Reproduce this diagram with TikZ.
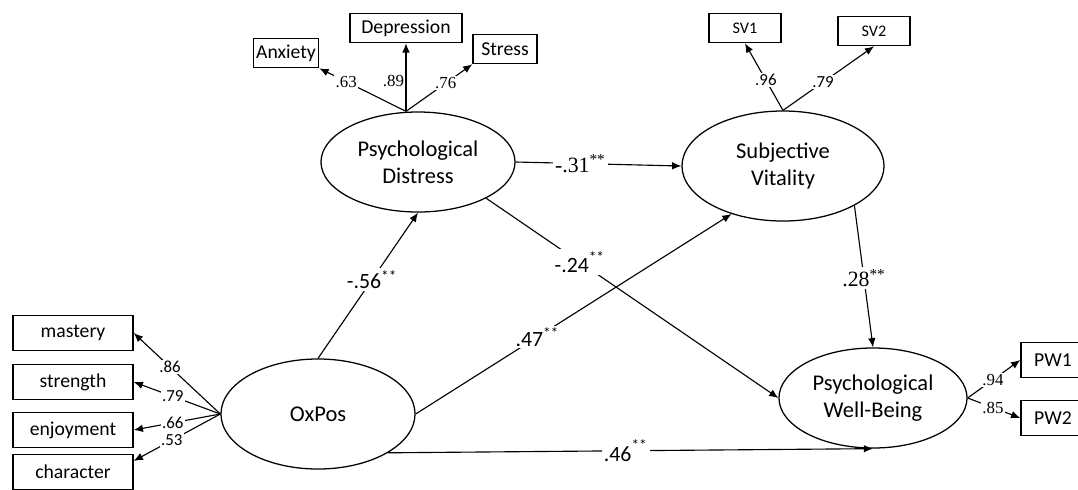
\documentclass[tikz,border=0pt]{standalone}
\usepackage{fontspec}
\setmainfont{Liberation Serif}
\setsansfont{Carlito}
\usetikzlibrary{arrows.meta,shapes.geometric}
\tikzset{
  latent/.style={ellipse,draw,line width=0.9pt,inner sep=0pt,align=center,
    font=\sffamily\fontsize{16}{19.2}\selectfont},
  indicator/.style={rectangle,draw,line width=1pt,inner sep=0pt,
    minimum height=0.73cm,font=\sffamily\fontsize{14}{16}\selectfont},
  wide/.style={indicator,minimum width=3cm,minimum height=0.88cm},
  effect/.style={-{Latex[length=2.3mm,width=1.9mm]},line width=0.8pt},
  load/.style={fill=white,inner sep=1pt,font=\sffamily\fontsize{12}{14}\selectfont},
  loadserif/.style={fill=white,inner sep=1pt,font=\rmfamily\fontsize{12}{14}\selectfont},
  coef/.style={fill=white,inner sep=1.5pt,font=\sffamily\fontsize{15.5}{18}\selectfont},
  coefserif/.style={fill=white,inner sep=1.5pt,font=\rmfamily\fontsize{15.5}{18}\selectfont}
}

\begin{document}
\begin{tikzpicture}[x=0.025cm,y=-0.025cm]
  \useasboundingbox (0,0) rectangle (1078,489);
  \clip (0,0) rectangle (1078,489);
  % latent variables
  \node[latent,minimum width=4.85cm,minimum height=2.5cm] (dist) at (418,162) {Psychological\\Distress};
  \node[latent,minimum width=5.05cm,minimum height=2.75cm] (vit) at (783,166) {Subjective\\Vitality};
  \node[latent,minimum width=4.85cm,minimum height=2.75cm] (oxpos) at (318,414) {OxPos};
  \node[latent,minimum width=4.7cm,minimum height=2.5cm] (pwb) at (873,398) {Psychological\\Well-Being};
  % indicators
  \node[indicator,minimum width=1.63cm] (anx) at (286,53) {Anxiety};
  \node[indicator,minimum width=2.8cm] (dep) at (406,28) {Depression};
  \node[indicator,minimum width=1.6cm] (strs) at (505,49) {Stress};
  \node[indicator,minimum width=1.8cm,font=\sffamily\fontsize{11.5}{13}\selectfont] (sv1) at (745,28) {SV1};
  \node[indicator,minimum width=1.8cm,font=\sffamily\fontsize{11.5}{13}\selectfont] (sv2) at (874,31) {SV2};
  \node[wide] (mas) at (73,333) {mastery};
  \node[wide] (stg) at (73,382) {strength};
  \node[wide] (enj) at (73,430) {enjoyment};
  \node[wide] (chr) at (73,472) {character};
  \node[indicator,minimum width=1.6cm,minimum height=0.875cm] (pw1) at (1053,360) {PW1};
  \node[indicator,minimum width=1.6cm,minimum height=0.875cm] (pw2) at (1053,418) {PW2};
  % loadings
  \coordinate (dtop) at (dep.south |- dist.north);
  \draw[effect] (dtop) -- node[loadserif,pos=.69]{.63} (anx.south east);
  \draw[effect] (dtop) -- node[loadserif,pos=.45,left,fill=none]{.89} (dep.south);
  \draw[effect] (dtop) -- node[loadserif,pos=.6]{.76} (strs.south west);
  \draw[effect] (vit.north) -- node[load,pos=.45]{.96} (sv1.south);
  \draw[effect] (vit.north) -- node[load,pos=.44]{.79} (sv2.south);
  \draw[effect] (oxpos.west) -- node[load,pos=.58]{.86} (mas.east);
  \draw[effect] (oxpos.west) -- node[load,pos=.55]{.79} (stg.east);
  \draw[effect] (oxpos.west) -- node[load,pos=.55]{.66} (enj.east);
  \draw[effect] (oxpos.west) -- node[load,pos=.56]{.53} ([yshift=-1.8mm]chr.north east);
  \draw[effect] (pwb.east) -- node[loadserif,pos=.48]{.94} (pw1.west);
  \draw[effect] (pwb.east) -- node[loadserif,pos=.48]{.85} (pw2.west);
  % structural paths
  \draw[effect] (dist.east) -- node[coefserif,pos=.39]{-.31\textsuperscript{**}} (vit.west);
  \draw[effect] (dist.-28) -- node[coef,pos=.32]{-.24\textsuperscript{\raisebox{.4ex}{**}}} (pwb.west);
  \draw[effect] (oxpos.north) -- node[coef,pos=.54]{-.56\textsuperscript{**}} (dist.south);
  \draw[effect] (oxpos.east) -- node[coef,pos=.385]{.47\textsuperscript{**}} (vit.223);
  \draw[effect] (vit.-29) -- node[coefserif,pos=.51]{.28\textsuperscript{**}} (pwb.north);
  \draw[effect] (oxpos.-29) -- node[coef,pos=.49]{.46\textsuperscript{\raisebox{.4ex}{**}}} (pwb.south);
\end{tikzpicture}
\end{document}
